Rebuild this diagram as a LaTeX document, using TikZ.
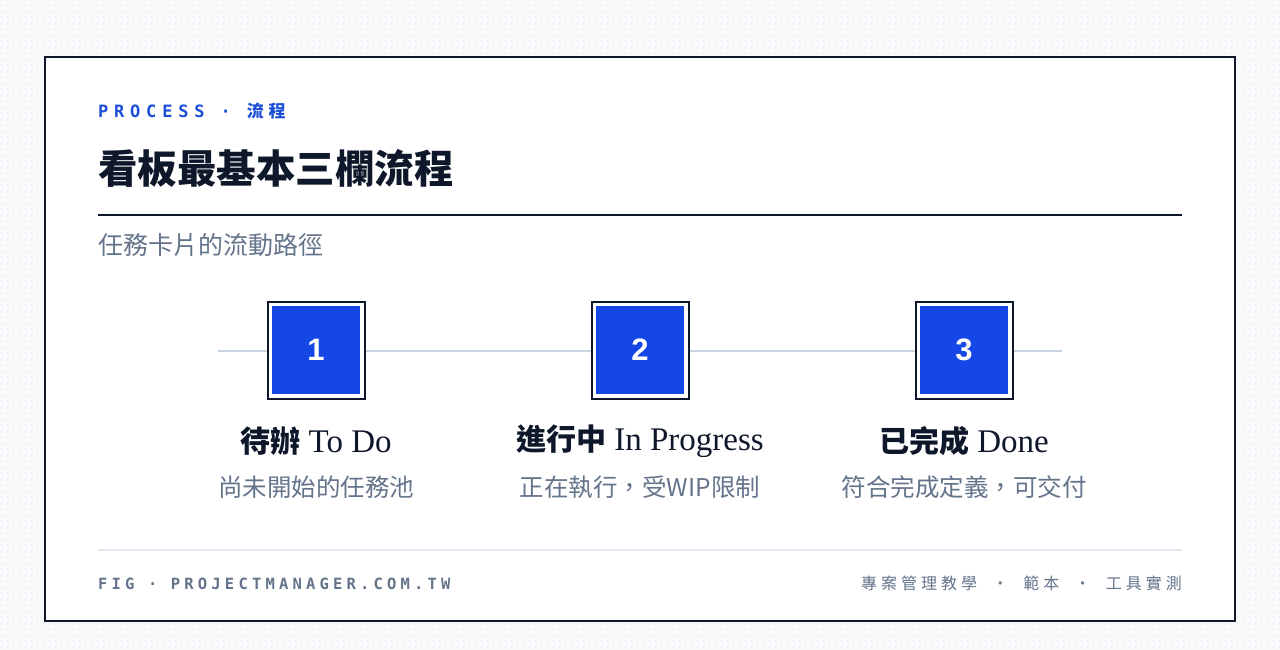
\documentclass[tikz,border=0pt]{standalone}
\usepackage{fontspec}
\setmainfont{Liberation Serif}
\newfontfamily\cjk{Noto Sans CJK TC}
\newfontfamily\cjkls[LetterSpace=25]{Noto Sans CJK TC}
\newfontfamily\cjkkick[LetterSpace=28]{Noto Sans CJK TC}
\newfontfamily\monols[LetterSpace=27]{DejaVu Sans Mono}
\newfontfamily\monokick[LetterSpace=34]{DejaVu Sans Mono}
\newfontfamily\numfont{Liberation Sans}
\usetikzlibrary{patterns,positioning}

\definecolor{ink}{HTML}{0F172A}
\definecolor{accent}{HTML}{1D4ED8}
\definecolor{boxblue}{HTML}{1447E6}
\definecolor{slate}{HTML}{64748B}
\definecolor{track}{HTML}{CBD5E1}
\definecolor{hair}{HTML}{E2E8F0}
\definecolor{bgcol}{HTML}{F8FAFC}
\definecolor{dotcol}{HTML}{E5E9EF}

\pgfdeclarepatternformonly{bgdots}{\pgfqpoint{0pt}{0pt}}{\pgfqpoint{6pt}{6pt}}{\pgfqpoint{6pt}{6pt}}%
  {\pgfpathcircle{\pgfqpoint{3pt}{3pt}}{0.9pt}\pgfusepath{fill}}

\tikzset{
  frame/.style={draw=ink, line width=2pt, fill=white, minimum size=97pt},
  stepbox/.style={fill=boxblue, minimum size=88pt, text=white,
    font=\fontsize{31}{31}\selectfont\numfont\bfseries},
  steplabel/.style={text=ink, font=\fontsize{33}{36}\selectfont},
  stepnote/.style={text=slate, font=\fontsize{24.5}{28}\selectfont\cjk},
}

\begin{document}
\begin{tikzpicture}[x=1pt, y=-1pt, every node/.style={inner sep=0pt}]
        \useasboundingbox (0,0) rectangle (1280,650);

        % Background
        \fill[bgcol] (0,0) rectangle (1280,650);
        \fill[pattern=bgdots, pattern color=dotcol] (0,0) rectangle (1280,650);

        % Card
        \draw[ink, line width=2pt, fill=white] (45,57) rectangle (1235,621);

        % Header
        \node[anchor=base west, text=accent] (kicker) at (98,118)
            {\fontsize{17}{20}\selectfont\bfseries{\monokick PROCESS · }{\cjkkick 流程}};
        \node[anchor=west, text=ink] (title) at (98,168)
            {\fontsize{39.5}{44}\selectfont\cjk\bfseries 看板最基本三欄流程};
        \draw[ink, line width=2pt] (98,215) -- (1182,215);
        \node[anchor=west, text=slate] (subtitle) at (98,245)
            {\fontsize{25}{28}\selectfont\cjk 任務卡片的流動路徑};

        % Track
        \coordinate (lineL) at (218,351);
        \coordinate (lineR) at (1062,351);
        \draw[track, line width=2pt] (lineL) -- (lineR);

        % Steps
        \foreach \n/\x/\zh/\en/\desc in {1/316/待辦/To Do/尚未開始的任務池,
                                        2/640/進行中/In Progress/正在執行，受WIP限制,
                                        3/964/已完成/Done/符合完成定義，可交付}
        {
            \node[frame] (frame\n) at (\x,350) {};
            \node[stepbox] (box\n) at (\x,350) {\n};
            \node[steplabel] (label\n) at (\x,441) {{\fontsize{30}{34}\selectfont\cjk\bfseries \zh} \en};
            \node[stepnote] (note\n) at (\x,487) {\desc};
        }

        % Footer
        \draw[hair, line width=1.5pt] (98,550) -- (1182,550);
        \node[anchor=base west, text=slate] (figtag) at (98,589)
            {\fontsize{15.5}{18}\selectfont\bfseries\monols FIG · PROJECTMANAGER.COM.TW};
        \node[anchor=base east, text=slate] (tags) at (1182,589)
            {\fontsize{16}{18}\selectfont\cjkls 專案管理教學 \ · \ 範本 \ · \ 工具實測};
    \end{tikzpicture}
\end{document}
